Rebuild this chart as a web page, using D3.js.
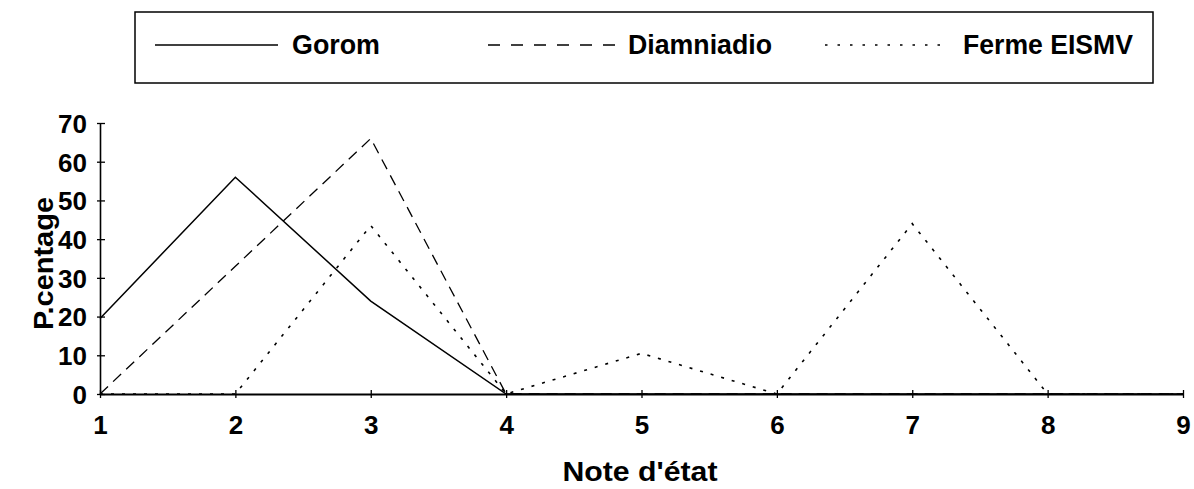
<!DOCTYPE html>
<html>
<head>
<meta charset="utf-8">
<script src="https://cdn.jsdelivr.net/npm/d3@7"></script>
<style>
  html, body { margin: 0; padding: 0; background: #fff; }
  svg { display: block; }
  text { font-family: "Liberation Sans", Arial, sans-serif; font-weight: bold; fill: #000; }
</style>
</head>
<body>
<svg id="chart" width="1194" height="489"></svg>
<script>
// Body condition score (1–9) and share of animals per site (%)
const notes = [1, 2, 3, 4, 5, 6, 7, 8, 9];
const gorom = [19.5, 56, 24, 0, 0, 0, 0, 0, 0];
const diamniadio = [0, 33, 66, 0, 0, 0, 0, 0, 0];
const fermeEismv = [0, 0, 43.5, 0, 10.5, 0, 44, 0, 0];
const yTicks = [0, 10, 20, 30, 40, 50, 60, 70];
const seriesNames = ["Gorom", "Diamniadio", "Ferme EISMV"];

const svg = d3.select("#chart");

const x = d3.scaleLinear().domain([1, 9]).range([100, 1183]);
const y = d3.scaleLinear().domain([0, 70]).range([394, 123]);

const styles = [
  { dash: null, width: 1.5 },
  { dash: "11,7", width: 1.3 },
  { dash: "3,8", width: 1.6 }
];

// Axes
const xAxis = d3.axisBottom(x).tickValues(notes).tickFormat(d3.format("d"))
  .tickSizeInner(4).tickSizeOuter(0).tickPadding(18);
const gx = svg.append("g").attr("transform", `translate(0,${y(0)})`).call(xAxis);
gx.select(".domain").attr("stroke", "#000").attr("stroke-width", 2);
gx.selectAll(".tick line").attr("y1", -4).attr("y2", 4).attr("stroke-width", 1.3);
gx.selectAll(".tick text").attr("font-size", 26).attr("font-weight", "bold")
  .attr("font-family", "'Liberation Sans', Arial, sans-serif").attr("dy", "0.7em");

const yAxis = d3.axisLeft(y).tickValues(yTicks).tickFormat(d3.format("d"))
  .tickSizeInner(3).tickSizeOuter(0).tickPadding(10);
const gy = svg.append("g").attr("transform", `translate(${x(1)},0)`).call(yAxis);
gy.select(".domain").attr("stroke", "#000").attr("stroke-width", 1.6);
gy.selectAll(".tick line").attr("x1", -3).attr("x2", 5).attr("stroke-width", 1.3);
gy.selectAll(".tick text").attr("font-size", 26).attr("font-weight", "bold")
  .attr("font-family", "'Liberation Sans', Arial, sans-serif").attr("dy", "0.36em");

// Axis titles
svg.append("text")
  .attr("transform", `translate(53,${(y(0) + y(70)) / 2 + 5}) rotate(-90)`)
  .attr("text-anchor", "middle")
  .attr("font-size", 28)
  .attr("textLength", 133)
  .attr("lengthAdjust", "spacingAndGlyphs")
  .text("P.centage");

svg.append("text")
  .attr("x", 640).attr("y", 481)
  .attr("text-anchor", "middle")
  .attr("font-size", 28)
  .attr("font-weight", "600")
  .attr("textLength", 155)
  .attr("lengthAdjust", "spacingAndGlyphs")
  .text("Note d'état");

// Series lines
const line = d3.line().x((d, i) => x(notes[i])).y(d => y(d));
const allSeries = [gorom, diamniadio, fermeEismv];
svg.append("g").selectAll("path").data(allSeries).join("path")
  .attr("d", d => line(d))
  .attr("fill", "none")
  .attr("stroke", "#000")
  .attr("stroke-width", (d, i) => styles[i].width)
  .attr("stroke-dasharray", (d, i) => styles[i].dash)
  .attr("stroke-linejoin", "miter");

// Legend
const legend = svg.append("g");
legend.append("rect")
  .attr("x", 135).attr("y", 12).attr("width", 1018).attr("height", 71)
  .attr("fill", "#fff").attr("stroke", "#000").attr("stroke-width", 1.5);

const legendItems = [
  { x1: 155, x2: 278, tx: 292, tw: 88 },
  { x1: 488, x2: 617, tx: 628, tw: 144 },
  { x1: 825, x2: 943, tx: 963, tw: 170 }
];
const li = legend.selectAll("g.item").data(seriesNames).join("g").attr("class", "item");
li.append("line")
  .attr("x1", (d, i) => legendItems[i].x1).attr("x2", (d, i) => legendItems[i].x2)
  .attr("y1", 45).attr("y2", 45)
  .attr("stroke", "#000")
  .attr("stroke-width", (d, i) => styles[i].width)
  .attr("stroke-dasharray", (d, i) => i === 1 ? "12,11" : (i === 2 ? "2.5,10" : null));
li.append("text")
  .attr("x", (d, i) => legendItems[i].tx).attr("y", 54)
  .attr("font-size", 27)
  .attr("textLength", (d, i) => legendItems[i].tw)
  .attr("lengthAdjust", "spacingAndGlyphs")
  .text(d => d);
</script>
</body>
</html>
